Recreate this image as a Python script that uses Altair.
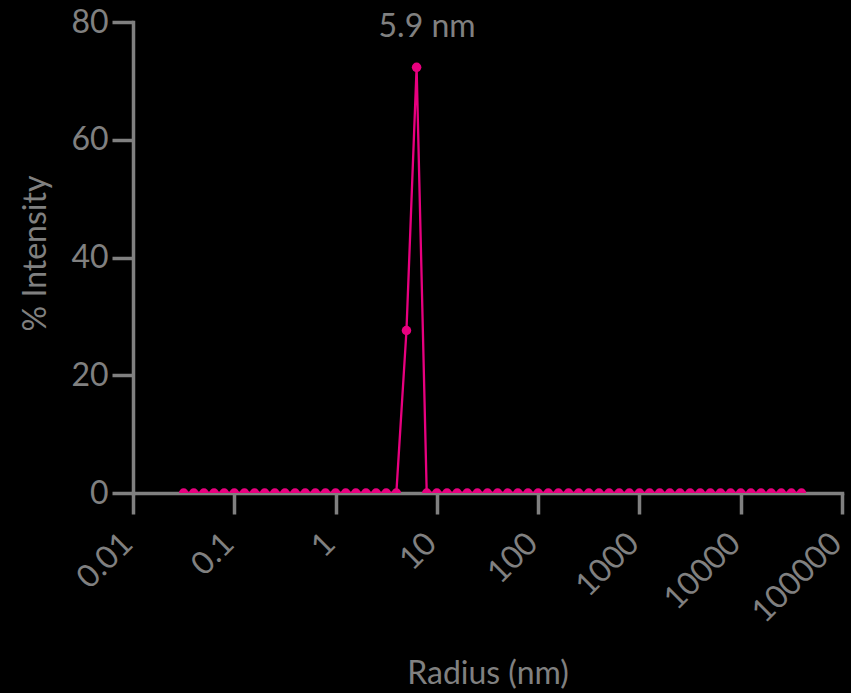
import altair as alt
import pandas as pd

# Radius bins (nm), log-spaced
radius_nm = [
    0.03162, 0.03981, 0.05012, 0.06310, 0.07943,
    0.1000, 0.1259, 0.1585, 0.1995, 0.2512, 0.3162, 0.3981, 0.5012, 0.6310, 0.7943,
    1.000, 1.259, 1.585, 1.995, 2.512, 3.162, 3.981, 5.012, 6.310, 7.943,
    10.00, 12.59, 15.85, 19.95, 25.12, 31.62, 39.81, 50.12, 63.10, 79.43,
    100.0, 125.9, 158.5, 199.5, 251.2, 316.2, 398.1, 501.2, 631.0, 794.3,
    1000, 1259, 1585, 1995, 2512, 3162, 3981, 5012, 6310, 7943,
    10000, 12590, 15850, 19950, 25120, 31620, 39810,
]
intensity_pct = [
    0, 0, 0, 0, 0,
    0, 0, 0, 0, 0, 0, 0, 0, 0, 0,
    0, 0, 0, 0, 0, 0, 0, 27.6, 72.3, 0,
    0, 0, 0, 0, 0, 0, 0, 0, 0, 0,
    0, 0, 0, 0, 0, 0, 0, 0, 0, 0,
    0, 0, 0, 0, 0, 0, 0, 0, 0, 0,
    0, 0, 0, 0, 0, 0, 0,
]
x_ticks = [0.01, 0.1, 1, 10, 100, 1000, 10000, 100000]
y_ticks = [0, 20, 40, 60, 80]
peak_text = ["5.9 nm"]
peak_text_x = [8.0]
peak_text_y = [80]

GRAY = "#808080"
PINK = "#e8007f"
FONT = "Lato"

df = pd.DataFrame({"radius": radius_nm, "intensity": intensity_pct})
ann = pd.DataFrame({"x": peak_text_x, "y": peak_text_y, "t": peak_text})

xscale = alt.Scale(type="log", domain=[0.01, 100001], nice=False)
yscale = alt.Scale(domain=[0, 80], nice=False, zero=True)

xaxis = alt.Axis(
    values=x_ticks, format="~g", title="Radius (nm)",
    labelAngle=-45, labelAlign="right", labelBaseline="middle",
    labelPadding=24, labelOffset=-6, tickSize=21,
    labelOverlap=False, labelFlush=False, labelBound=False,
    titleY=190, titleBaseline="alphabetic",
    grid=False,
)
yaxis = alt.Axis(
    values=y_ticks, title="% Intensity", tickSize=21, labelPadding=4,
    labelOverlap=False, labelFlush=False,
    titleAngle=-90, titleX=-88, titleY=231, titleAlign="center",
    titleBaseline="alphabetic", grid=False,
)

base = alt.Chart(df).encode(
    x=alt.X("radius:Q", scale=xscale, axis=xaxis),
    y=alt.Y("intensity:Q", scale=yscale, axis=yaxis),
)
line = base.mark_line(color=PINK, strokeWidth=2.3, clip=True)
pts = base.mark_point(filled=True, color=PINK, size=90, opacity=1, clip=True)

text = alt.Chart(ann).mark_text(
    font=FONT, fontSize=32, color=GRAY, baseline="alphabetic", align="center", dy=15
).encode(
    x=alt.X("x:Q", scale=xscale),
    y=alt.Y("y:Q", scale=yscale),
    text="t:N",
)

chart = alt.layer(line, pts, text).properties(
    width=709, height=471,
    autosize=alt.AutoSizeParams(type="none"),
    padding={"left": 133, "top": 22, "right": 9, "bottom": 200},
    background="black",
).configure_view(stroke=None).configure_axis(
    domainColor=GRAY, domainWidth=3.5, tickColor=GRAY, tickWidth=3.5,
    labelColor=GRAY, labelFont=FONT, labelFontSize=32,
    titleColor=GRAY, titleFont=FONT, titleFontSize=32, titleFontWeight="normal",
    domainCap="square",
)

chart.save("out.html", embed_options={"renderer": "svg", "actions": False})
